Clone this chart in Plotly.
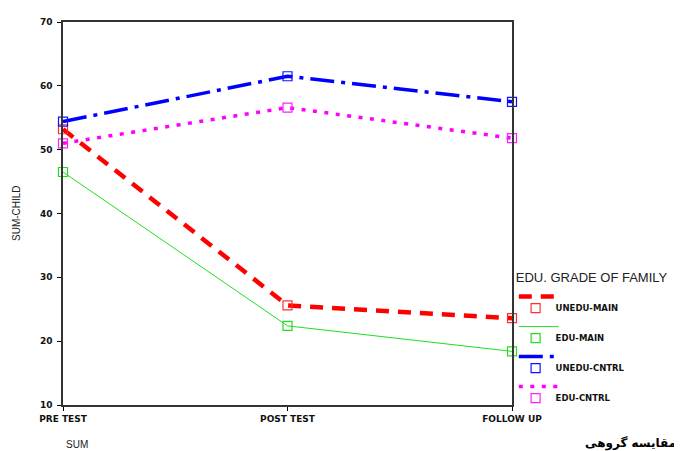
import plotly.graph_objects as go

# ---- data ----
phases = ["PRE TEST", "POST TEST", "FOLLOW UP"]
series_names = ["UNEDU-MAIN", "EDU-MAIN", "UNEDU-CNTRL", "EDU-CNTRL"]
unedu_main = [53.2, 25.6, 23.6]
edu_main = [46.5, 22.4, 18.4]
unedu_cntrl = [54.4, 61.5, 57.5]
edu_cntrl = [51.0, 56.6, 51.8]
y_ticks = [10, 20, 30, 40, 50, 60, 70]

values = [unedu_main, edu_main, unedu_cntrl, edu_cntrl]
colors = ["#ff0000", "#22dd22", "#0000ff", "#ff00ff"]
marker_colors = ["#ff3030", "#22dd22", "#1010ff", "#ff20ff"]
widths = [4.5, 1, 3.5, 3.5]
dashes = ["13px,9px", "solid", "24px,7px,4px,7px", "4px,7.5px"]

fig = go.Figure()

# line traces (legend: line samples)
for i, (name, vals) in enumerate(zip(series_names, values)):
    fig.add_trace(go.Scatter(
        x=phases, y=vals, mode="lines", name=" ",
        line=dict(color=colors[i], width=widths[i], dash=dashes[i]),
        legend="legend", legendgroup="l%d" % i, cliponaxis=False,
        hoverinfo="skip"))

# marker traces (legend: markers + labels)
for i, (name, vals) in enumerate(zip(series_names, values)):
    fig.add_trace(go.Scatter(
        x=phases, y=vals, mode="markers", name=name,
        marker=dict(symbol="square-open", size=9, color=marker_colors[i],
                    line=dict(width=1.2, color=marker_colors[i])),
        legend="legend2", legendgroup="m%d" % i, cliponaxis=False))

tick_font = dict(family="DejaVu Sans", size=9, color="#111", weight="bold")

fig.update_layout(
    width=682, height=451,
    margin=dict(l=55, r=178, t=9, b=54),
    paper_bgcolor="white", plot_bgcolor="white",
    xaxis=dict(
        type="category", categoryorder="array", categoryarray=phases,
        range=[0, 2], showgrid=False, zeroline=False,
        showline=True, mirror=True, linecolor="#333", linewidth=1.5,
        ticks="outside", ticklen=4, tickcolor="#000", tickwidth=1,
        tickfont=tick_font),
    yaxis=dict(
        range=[10, 70], tickvals=y_ticks, showgrid=False, zeroline=False,
        showline=True, mirror=True, linecolor="#333", linewidth=1.5,
        ticks="outside", ticklen=4, tickcolor="#000", tickwidth=1,
        ticklabelstandoff=3, tickfont=tick_font),
    legend=dict(
        x=1.004, y=0.365, xanchor="left", yanchor="top",
        bgcolor="rgba(0,0,0,0)", borderwidth=0,
        traceorder="grouped", tracegroupgap=11, itemwidth=40,
        title=dict(text="EDU. GRADE OF FAMILY",
                   font=dict(family="Liberation Sans", size=13, color="#222")),
        font=dict(family="DejaVu Sans", size=8, color="#111")),
    legend2=dict(
        x=1.008, y=0.291, xanchor="left", yanchor="top",
        bgcolor="rgba(0,0,0,0)", borderwidth=0,
        traceorder="grouped", tracegroupgap=11,
        font=dict(family="DejaVu Sans", size=8.5, color="#111", weight="bold")),
    showlegend=True,
)

fig.add_annotation(
    text="SUM-CHILD", xref="paper", yref="paper", x=0, y=0.5,
    xshift=-54, textangle=-90, showarrow=False,
    font=dict(family="Liberation Sans", size=10, color="#222"))

fig.add_annotation(
    text="SUM", xref="paper", yref="paper", x=0, y=0,
    xshift=1, yshift=-47, showarrow=False,
    font=dict(family="Liberation Sans", size=10, color="#222"))

fig.add_annotation(
    text="مقایسه گروهی", xref="paper", yref="paper", x=1.37, y=0,
    xanchor="right", yanchor="top", yshift=-29, showarrow=False,
    font=dict(family="DejaVu Sans", size=12, color="#000", weight="bold"))

fig.write_html("out.html")
